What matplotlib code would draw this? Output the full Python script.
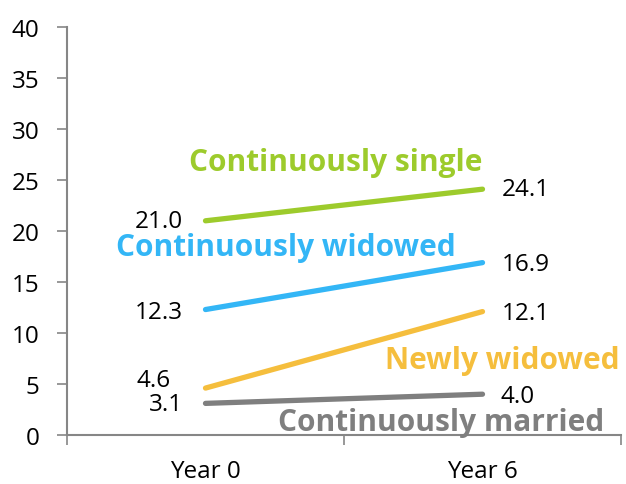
import matplotlib
matplotlib.use("Agg")
import matplotlib.pyplot as plt
from matplotlib.ticker import FixedLocator

categories = ["Year 0", "Year 6"]
series_names = ["Continuously single", "Continuously widowed", "Newly widowed", "Continuously married"]
single = [21.0, 24.1]
widowed = [12.3, 16.9]
newly_widowed = [4.6, 12.1]
married = [3.1, 4.0]
y_ticks = [0, 5, 10, 15, 20, 25, 30, 35, 40]

values = [single, widowed, newly_widowed, married]
colors = ["#9DCB2C", "#33B6F6", "#F5BE3D", "#7F7F7F"]
name_pos = [(0.47, 26.8), (0.29, 18.4), (1.07, 7.35), (0.85, 1.3)]
left_off = [(-16, 0), (-16, -1.5), (-25, 6), (-16, -0.5)]
right_off = [(14, 0), (14, -1), (14, -1), (13, -1)]

plt.rcParams['font.family'] = ['Open Sans', 'DejaVu Sans']
fig = plt.figure(figsize=(6.26, 4.85), dpi=100)
ax = fig.add_axes([67/626, 49/485, 554/626, 408/485])

x = list(range(len(categories)))
for vals, c, npos, lo, ro, name in zip(values, colors, name_pos, left_off, right_off, series_names):
    ax.plot(x, vals, color=c, lw=3.8, solid_capstyle='round', zorder=3)
    ax.annotate(f"{vals[0]:.1f}", (x[0], vals[0]), xytext=lo, textcoords='offset points',
                ha='right', va='center', fontsize=17.5, color='black')
    ax.annotate(f"{vals[1]:.1f}", (x[1], vals[1]), xytext=ro, textcoords='offset points',
                ha='left', va='center', fontsize=17.5, color='black')
    ax.text(npos[0], npos[1], name, color=c, fontsize=21.5, fontweight='bold',
            ha='center', va='center')

ax.set_xlim(-0.5, 1.5)
ax.set_ylim(0, 40)
ax.set_yticks(y_ticks)
ax.tick_params(axis='y', labelsize=17.5, length=7, width=1.2, color='#868686', pad=13)
ax.xaxis.set_major_locator(FixedLocator([-0.5, 0.5, 1.5]))
ax.xaxis.set_minor_locator(FixedLocator(x))
ax.set_xticklabels([])
ax.set_xticklabels(categories, minor=True)
ax.tick_params(axis='x', which='major', length=7, width=1.2, color='#868686')
ax.tick_params(axis='x', which='minor', length=0, labelsize=17.5, pad=17)
for s in ['top', 'right']:
    ax.spines[s].set_visible(False)
for s in ['left', 'bottom']:
    ax.spines[s].set_color('#868686')
    ax.spines[s].set_linewidth(1.5)

fig.savefig("out.png", dpi=100)
